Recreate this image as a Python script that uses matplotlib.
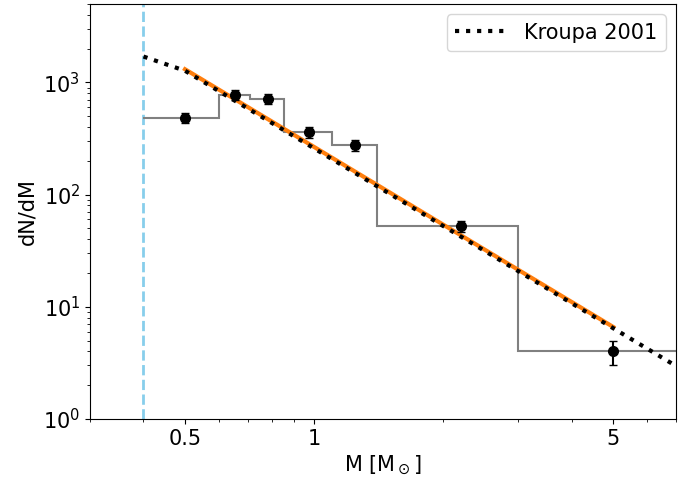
import matplotlib
matplotlib.use('Agg')
import matplotlib.pyplot as plt
from matplotlib.ticker import NullFormatter

# Datos
bordes = [0.4, 0.6, 0.71, 0.85, 1.1, 1.4, 3.0, 7.0]
alturas = [482, 775, 718, 360, 275, 52, 4.0]

masa_pts = [0.5, 0.655, 0.78, 0.975, 1.25, 2.2, 5.0]
dndm_pts = [482, 775, 718, 360, 275, 52, 4.0]
err_pts = [48, 84, 72, 38, 30, 5.7, 1.0]

kroupa_m = [0.4, 0.5, 7.0]
kroupa_y = [1700, 1270, 2.97]

ajuste_m = [0.5, 5.0]
ajuste_y = [1310, 6.6]

m_corte = 0.4


def graficar():
    fig = plt.figure(figsize=(6.91, 4.79), dpi=100)
    ax = fig.add_axes([0.1302, 0.1253, 0.848, 0.8664])

    ax.axvline(m_corte, color='skyblue', ls='--', lw=2, zorder=1)
    ax.stairs(alturas, bordes, baseline=None, color='gray', lw=1.5, zorder=2)
    ax.plot(ajuste_m, ajuste_y, color='tab:orange', lw=3, zorder=3)
    ax.plot(kroupa_m, kroupa_y, color='black', ls=':', lw=3, zorder=4,
            label='Kroupa 2001')
    ax.errorbar(masa_pts, dndm_pts, yerr=err_pts, fmt='o', color='black',
                ms=7, capsize=3, zorder=5)

    ax.set_xscale('log')
    ax.set_yscale('log')
    ax.set_xlim(0.3, 7)
    ax.set_ylim(1, 5000)
    ax.set_xticks([0.5, 1, 5])
    ax.set_xticklabels(['0.5', '1', '5'])
    ax.xaxis.set_minor_formatter(NullFormatter())
    ax.tick_params(labelsize=15)

    ax.set_xlabel(r'M [M$_\odot$]', fontsize=15)
    ax.set_ylabel('dN/dM', fontsize=15)
    ax.legend(loc='upper right', fontsize=15, handlelength=2.5)

    fig.savefig('out.png', dpi=100)


graficar()
